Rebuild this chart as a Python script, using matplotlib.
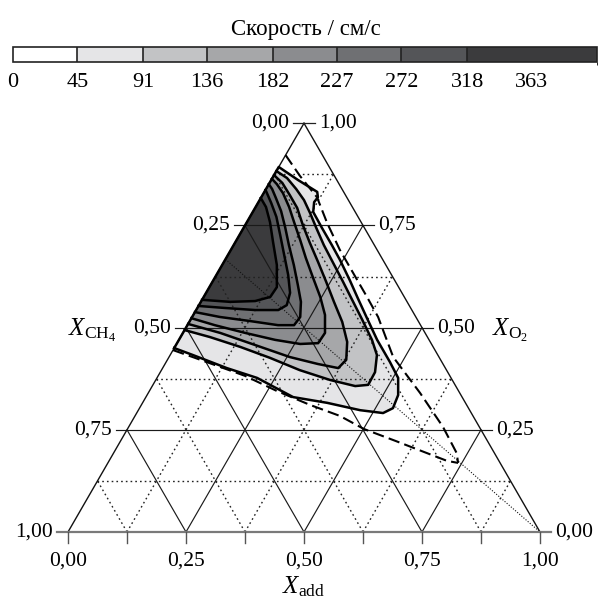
import numpy as np
import matplotlib
matplotlib.use("Agg")
import matplotlib.pyplot as plt
import matplotlib.cm as cm
from matplotlib.colors import ListedColormap, BoundaryNorm

plt.rcParams['font.family'] = 'Liberation Serif'
plt.rcParams['mathtext.fontset'] = 'custom'
plt.rcParams['mathtext.rm'] = 'Liberation Serif'
plt.rcParams['mathtext.it'] = 'Liberation Serif:italic'
plt.rcParams['font.size'] = 15.5

# colour scale of the burning velocity (cm/s)
levels = [0, 45, 91, 136, 182, 227, 272, 318, 409]
level_ticks = [0, 45, 91, 136, 182, 227, 272, 318, 363]
level_colors = ['#ffffff', '#e5e5e7', '#c2c3c5', '#a6a7a9', '#8b8c8f',
                '#6f7073', '#545558', '#3b3b3d']

# isolines, given as (X_add, X_O2) pairs
c45_add = [0, 0.048, 0.136, 0.212, 0.312, 0.391, 0.470, 0.522, 0.537, 0.532,
           0.511, 0.474, 0.420, 0.372, 0.328, 0.289, 0.244, 0.208, 0.166,
           0.128, 0.118, 0.120, 0.112, 0.057, 0]
c45_o2 = [0.450, 0.433, 0.401, 0.377, 0.330, 0.316, 0.298, 0.291, 0.303, 0.335,
          0.377, 0.416, 0.470, 0.523, 0.572, 0.616, 0.665, 0.702, 0.744,
          0.783, 0.807, 0.819, 0.832, 0.861, 0.893]

c91_add = [0, 0.062, 0.138, 0.215, 0.293, 0.369, 0.430, 0.456, 0.455, 0.438,
           0.409, 0.364, 0.318, 0.273, 0.231, 0.191, 0.154, 0.123, 0.094,
           0.064, 0.031, 0]
c91_o2 = [0.494, 0.477, 0.453, 0.426, 0.396, 0.372, 0.357, 0.360, 0.391, 0.433,
          0.470, 0.519, 0.568, 0.616, 0.660, 0.702, 0.744, 0.780, 0.812,
          0.839, 0.866, 0.883]

c136_add = [0, 0.079, 0.181, 0.256, 0.324, 0.372, 0.379, 0.359, 0.324, 0.282,
            0.241, 0.200, 0.159, 0.122, 0.089, 0.058, 0.027, 0]
c136_o2 = [0.509, 0.487, 0.453, 0.428, 0.411, 0.401, 0.421, 0.465, 0.514,
           0.563, 0.612, 0.660, 0.707, 0.751, 0.793, 0.824, 0.854, 0.873]

c182_add = [0, 0.058, 0.132, 0.204, 0.262, 0.299, 0.301, 0.279, 0.247, 0.209,
            0.169, 0.135, 0.100, 0.071, 0.041, 0.017, 0]
c182_o2 = [0.523, 0.506, 0.487, 0.470, 0.460, 0.462, 0.487, 0.531, 0.575,
           0.621, 0.670, 0.714, 0.758, 0.795, 0.829, 0.851, 0.864]

c227_add = [0, 0.059, 0.128, 0.192, 0.226, 0.229, 0.212, 0.185, 0.152, 0.117,
            0.087, 0.059, 0.032, 0.013, 0]
c227_o2 = [0.538, 0.526, 0.516, 0.506, 0.506, 0.526, 0.563, 0.604, 0.653,
           0.702, 0.746, 0.785, 0.817, 0.839, 0.851]

c272_add = [0, 0.059, 0.125, 0.174, 0.186, 0.178, 0.152, 0.119, 0.086, 0.056,
            0.028, 0]
c272_o2 = [0.553, 0.548, 0.543, 0.543, 0.555, 0.585, 0.629, 0.678, 0.727,
           0.771, 0.805, 0.837]

c318_add = [0, 0.062, 0.114, 0.141, 0.143, 0.116, 0.080, 0.049, 0.022, 0]
c318_o2 = [0.568, 0.563, 0.565, 0.575, 0.599, 0.653, 0.709, 0.758, 0.795, 0.817]

# dashed limit curves
lim1_add = [0, 0.056, 0.118, 0.171, 0.231, 0.287, 0.346, 0.394, 0.475, 0.576,
            0.666, 0.727, 0.742]
lim1_o2 = [0.922, 0.871, 0.819, 0.756, 0.690, 0.634, 0.575, 0.526, 0.428,
           0.340, 0.257, 0.193, 0.169]
lim2_add = [0, 0.056, 0.184, 0.270, 0.357, 0.434, 0.501, 0.582, 0.664, 0.716,
            0.742]
lim2_o2 = [0.445, 0.426, 0.382, 0.345, 0.311, 0.284, 0.252, 0.223, 0.193,
           0.174, 0.169]

# stoichiometric CH4/O2 line
stoich_add = [0, 1]
stoich_o2 = [0.667, 0]

grid_vals = [0.125, 0.25, 0.375, 0.5, 0.625, 0.75, 0.875]
axis_vals = [0, 0.25, 0.5, 0.75, 1.0]

H = np.sqrt(3) / 2


def tern(add, o2):
    add = np.asarray(add, dtype=float)
    o2 = np.asarray(o2, dtype=float)
    return add + o2 / 2, o2 * H


def fmt(v):
    return "{:.2f}".format(v).replace(".", ",")


def main():
    fig = plt.figure(figsize=(6.0, 6.02), dpi=100)
    ax = fig.add_axes([0, 0, 1, 1])
    s = 472.0  # pixels per unit of the triangle base
    ax.set_xlim(-68 / s, 532 / s)
    ax.set_ylim(-70 / s, 532 / s)
    ax.axis('off')

    ext = 11 / s
    gap = 4 / s

    contours = [(c45_add, c45_o2), (c91_add, c91_o2), (c136_add, c136_o2),
                (c182_add, c182_o2), (c227_add, c227_o2),
                (c272_add, c272_o2), (c318_add, c318_o2)]

    for (add, o2), col in zip(contours, level_colors[1:]):
        x, y = tern(add, o2)
        ax.fill(x, y, color=col, lw=0, zorder=1)

    # grid
    dot = (0, (1.2, 2.2))
    for v in grid_vals:
        solid = abs((v / 0.25) - round(v / 0.25)) < 1e-6
        ls = '-' if solid else dot
        lw = 0.85 if solid else 1.0
        col = '#1a1a1a' if solid else '#222222'
        # horizontal (constant O2)
        x, y = tern([0, 1 - v], [v, v])
        if solid:
            x = [x[0] - ext, x[1] + ext]
        ax.plot(x, y, ls=ls, lw=lw, color=col, zorder=2)
        # constant X_add
        x, y = tern([v, v], [0, 1 - v])
        ax.plot(x, y, ls=ls, lw=lw, color=col, zorder=2)
        # constant X_CH4
        x, y = tern([1 - v, 0], [0, 1 - v])
        ax.plot(x, y, ls=ls, lw=lw, color=col, zorder=2)

    x, y = tern(stoich_add, stoich_o2)
    ax.plot(x, y, ls=(0, (1.0, 1.5)), lw=0.8, color='#111111', zorder=2)

    # triangle frame
    x, y = tern([0, 0, 1], [0, 1, 0])
    ax.plot(x[:2], y[:2], color='#111111', lw=1.0, zorder=3)
    ax.plot(x[1:], y[1:], color='#111111', lw=1.0, zorder=3)
    ax.plot([-ext, 1 + ext], [0, 0], color='#7a7a7a', lw=1.6, zorder=3)
    ax.plot([0.5 - ext, 0.5 + ext], [H, H], color='#222222', lw=0.9, zorder=3)
    for k in range(9):
        ax.plot([k / 8, k / 8], [0, -ext], color='#555555', lw=1.0, zorder=3)

    # isolines
    for i, (add, o2) in enumerate(contours):
        x, y = tern(add, o2)
        if i == 0:
            x = np.append(x, x[0])
            y = np.append(y, y[0])
        ax.plot(x, y, color='black', lw=1.8, zorder=4,
                solid_joinstyle='round')

    for add, o2 in [(lim1_add, lim1_o2), (lim2_add, lim2_o2)]:
        x, y = tern(add, o2)
        ax.plot(x, y, color='black', lw=1.5, ls=(0, (5.5, 2.5)), zorder=5)

    # axis labels
    for v in axis_vals:
        xl, yl = tern(0, v)
        xr, yr = tern(1 - v, v)
        ax.text(xl - ext - gap, yl, fmt(1 - v), ha='right', va='center')
        ax.text(xr + ext + gap, yr, fmt(v), ha='left', va='center')
        ax.text(v, -29 / s, fmt(v), ha='center', va='center')

    ax.text((116 - 68) / s, (532 - 336) / s, r'$X_{\mathrm{CH}_4}$',
            ha='right', va='baseline', fontsize=18)
    ax.text((492 - 68) / s, (532 - 336) / s, r'$X_{\mathrm{O}_2}$',
            ha='left', va='baseline', fontsize=18)
    ax.text(0.5, -55 / s, r'$X_{\mathrm{add}}$', ha='center', va='center',
            fontsize=18)

    # colour bar
    cax = fig.add_axes([13 / 600, 1 - 62 / 602, 584 / 600, 15 / 602])
    norm = BoundaryNorm(levels, len(level_colors))
    sm = cm.ScalarMappable(norm=norm, cmap=ListedColormap(level_colors))
    cb = fig.colorbar(sm, cax=cax, orientation='horizontal',
                      spacing='proportional', ticks=level_ticks,
                      drawedges=True)
    cb.outline.set_linewidth(1.2)
    cb.outline.set_edgecolor('#222222')
    cb.dividers.set_linewidth(1.2)
    cb.dividers.set_color('#222222')
    cax.tick_params(length=0, pad=8, labelsize=16)
    cax.set_xticklabels([str(t) for t in level_ticks])
    fig.text(306 / 600, 1 - 29 / 602, 'Скорость / см/с', ha='center',
             va='center', fontsize=16.5)

    fig.savefig("out.png", dpi=100)


if __name__ == "__main__":
    main()
